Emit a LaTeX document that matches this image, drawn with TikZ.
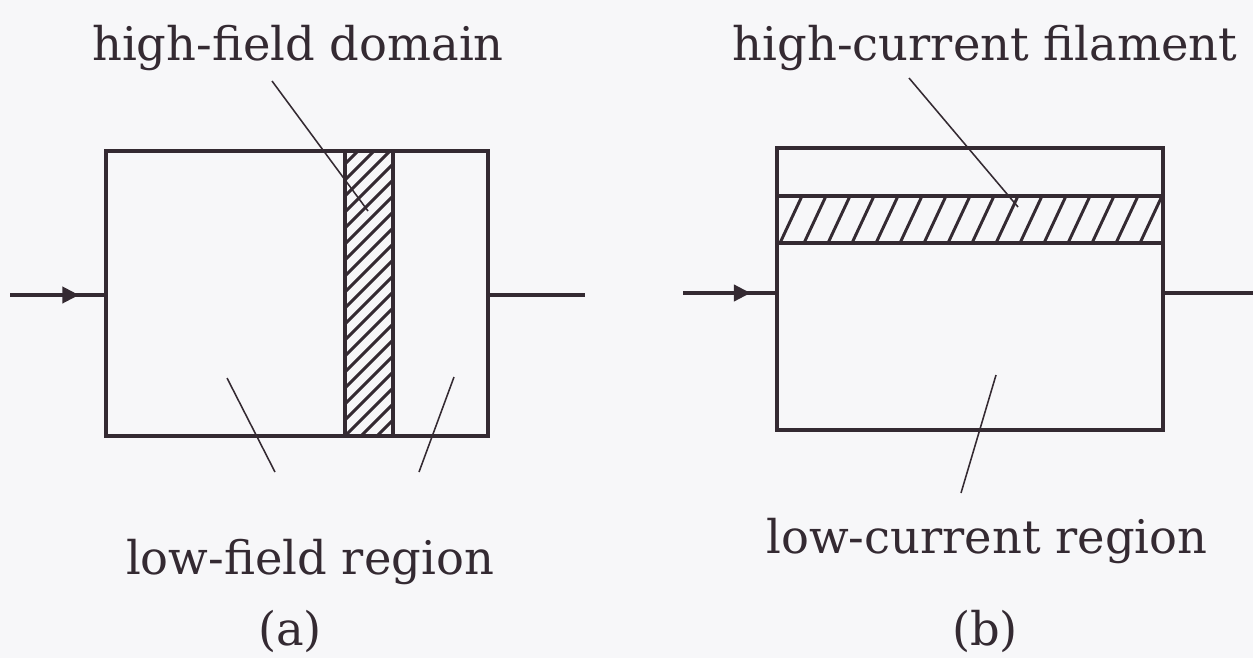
\documentclass[tikz,border=0pt]{standalone}
\usepackage{fontspec}
\setmainfont{DejaVu Serif}
\usetikzlibrary{arrows.meta,decorations.markings}

\definecolor{tinte}{RGB}{52,42,50}
\definecolor{papier}{RGB}{247,247,249}

\tikzset{
	rand/.style={draw=tinte, line width=2.8pt},
	schraffur/.style={draw=tinte, line width=2.1pt},
	zeiger/.style={draw=tinte, line width=1.1pt},
	beschriftung/.style={text=tinte, anchor=base, inner sep=0pt, font=\fontsize{33}{38}\selectfont},
	pfeilmitte/.style={rand, postaction={decorate},
		decoration={markings, mark=at position 0.72 with {\arrow[tinte]{Triangle[length=4.2mm,width=4mm]}}}}
}

\begin{document}
\begin{tikzpicture}[x=0.025cm,y=-0.025cm]
	% Hintergrund
	\fill[papier] (0,0) rectangle (1253,658);
	\useasboundingbox (0,0) rectangle (1253,658);
	
	% ---------- (a) Gunn-Diode mit Hochfelddomaene ----------
	% Schraffur der Domaene
	\begin{scope}
		\clip (345,151) rectangle (393,436);
		\foreach \k in {-3,...,18}
		\draw[schraffur] (345,436-16*\k) -- ++(80,-80);
	\end{scope}
	\draw[rand] (345,151) -- (345,436); % Domaenengrenze links
	\draw[rand] (393,151) -- (393,436); % Domaenengrenze rechts
	\draw[rand] (106,151) rectangle (488,436); % Bauelement
	
	% Anschluesse
	\coordinate (einA) at (10,295);
	\coordinate (boxAl) at (106,295);
	\coordinate (boxAr) at (488,295);
	\coordinate (ausA) at (585,295);
	\draw[pfeilmitte] (einA) -- (boxAl);
	\draw[rand] (boxAr) -- (ausA);
	
	% Beschriftungen
	\node[beschriftung] (domA) at (298,60) {high-field domain};
	\node[beschriftung] (lowA) at (310,574) {low-field region};
	\node[beschriftung] (capA) at (290,645) {(a)};
	
	% Zeigerlinien
	\coordinate (domAs) at (272,81);
	\coordinate (domAe) at (368,211);
	\coordinate (lowAs1) at (275,472);
	\coordinate (lowAe1) at (227,378);
	\coordinate (lowAs2) at (419,472);
	\coordinate (lowAe2) at (454,377);
	\draw[zeiger] (domAs) -- (domAe);
	\draw[zeiger] (lowAs1) -- (lowAe1);
	\draw[zeiger] (lowAs2) -- (lowAe2);
	
	% ---------- (b) Bauelement mit Stromfaden ----------
	% Schraffur des Stromfadens
	\begin{scope}
		\clip (777,196) rectangle (1163,243);
		\foreach \k in {-2,...,17}
		\draw[schraffur] (780+24*\k,243) -- ++(22,-47);
	\end{scope}
	\draw[rand] (777,196) -- (1163,196); % Fadengrenze oben
	\draw[rand] (777,243) -- (1163,243); % Fadengrenze unten
	\draw[rand] (777,148) rectangle (1163,430); % Bauelement
	
	% Anschluesse
	\coordinate (einB) at (683,293);
	\coordinate (boxBl) at (777,293);
	\coordinate (boxBr) at (1163,293);
	\coordinate (ausB) at (1253,293);
	\draw[pfeilmitte] (einB) -- (boxBl);
	\draw[rand] (boxBr) -- (ausB);
	
	% Beschriftungen
	\node[beschriftung] (filB) at (985,60) {high-current filament};
	\node[beschriftung] (lowB) at (987,553) {low-current region};
	\node[beschriftung] (capB) at (985,645) {(b)};
	
	% Zeigerlinien
	\coordinate (filBs) at (909,78);
	\coordinate (filBe) at (1018,207);
	\coordinate (lowBs) at (961,493);
	\coordinate (lowBe) at (996,375);
	\draw[zeiger] (filBs) -- (filBe);
	\draw[zeiger] (lowBs) -- (lowBe);
\end{tikzpicture}
\end{document}
